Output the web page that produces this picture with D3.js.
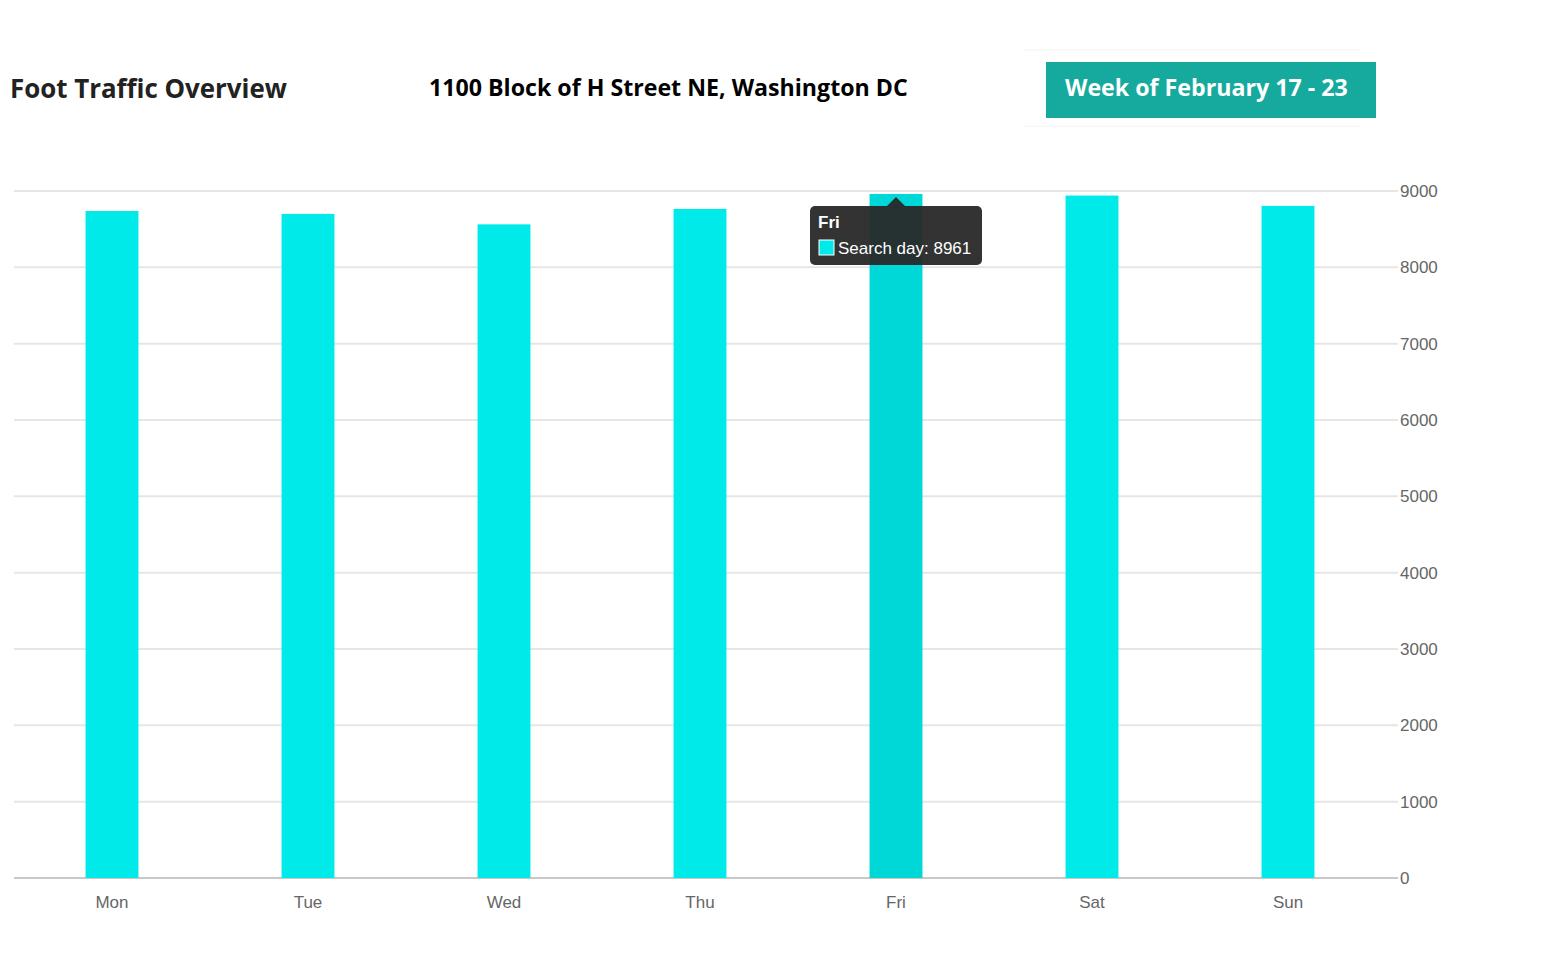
<!DOCTYPE html>
<html><head><meta charset="utf-8">
<script src="https://cdn.jsdelivr.net/npm/d3@7"></script>
<style>body{margin:0;background:#fff;}svg{display:block;}</style>
</head><body>
<svg id="chart" width="1548" height="960"></svg>
<script>
const categories = ["Mon","Tue","Wed","Thu","Fri","Sat","Sun"];
const values = [8738, 8700, 8563, 8765, 8961, 8940, 8805];
const yTicks = [0,1000,2000,3000,4000,5000,6000,7000,8000,9000];
const seriesName = "Search day";
const highlighted = "Fri";

const svg = d3.select("#chart");
const x = d3.scaleBand().domain(categories).range([14, 1386]).paddingInner(0.73).paddingOuter(0.365);
const y = d3.scaleLinear().domain([0, 9000]).range([878, 191]);

function fitText(sel, w){ const l = sel.node().getComputedTextLength(); const fs = parseFloat(sel.attr("font-size")); sel.attr("font-size", fs*w/l); }
const t1 = svg.append("text").attr("x",10).attr("y",98).attr("font-family","Open Sans, sans-serif").attr("font-weight",700).attr("font-size",27).attr("fill","#222").text("Foot Traffic Overview");
fitText(t1, 277);
const t2 = svg.append("text").attr("x",429).attr("y",96).attr("font-family","Open Sans, sans-serif").attr("font-weight",700).attr("font-size",24).attr("fill","#000").text("1100 Block of H Street NE, Washington DC");
fitText(t2, 479);

svg.append("line").attr("x1",1023).attr("x2",1360).attr("y1",50).attr("y2",50).attr("stroke","#f2f2f2").attr("stroke-width",1);
svg.append("line").attr("x1",1023).attr("x2",1360).attr("y1",126).attr("y2",126).attr("stroke","#f2f2f2").attr("stroke-width",1);
svg.append("rect").attr("x",1046).attr("y",62).attr("width",330).attr("height",56).attr("fill","#16a99d");
const t3 = svg.append("text").attr("x",1065).attr("y",96).attr("font-family","Open Sans, sans-serif").attr("font-weight",700).attr("font-size",24).attr("fill","#fff").text("Week of February 17 - 23");
fitText(t3, 283);

svg.append("g").selectAll("line").data(yTicks.filter(d=>d>0)).join("line")
  .attr("x1",14).attr("x2",1398).attr("y1",d=>y(d)).attr("y2",d=>y(d))
  .attr("stroke","#e6e6e6").attr("stroke-width",2);
svg.append("line").attr("x1",14).attr("x2",1398).attr("y1",y(0)).attr("y2",y(0)).attr("stroke","#c8c8c8").attr("stroke-width",2);

svg.append("g").selectAll("text").data(yTicks).join("text")
  .attr("x",1400).attr("y",d=>y(d)).attr("dy","0.36em")
  .attr("font-family","Liberation Sans, Arial, sans-serif").attr("font-size",17).attr("fill","#666")
  .text(d=>d);

svg.append("g").selectAll("rect").data(categories).join("rect")
  .attr("x",d=>x(d)).attr("width",x.bandwidth())
  .attr("y",(d,i)=>y(values[i])).attr("height",(d,i)=>y(0)-y(values[i]))
  .attr("fill",d=>d===highlighted?"#00d8d8":"#00eaea");

svg.append("g").selectAll("text").data(categories).join("text")
  .attr("x",d=>x(d)+x.bandwidth()/2).attr("y",902).attr("dy","0.36em").attr("text-anchor","middle")
  .attr("font-family","Liberation Sans, Arial, sans-serif").attr("font-size",17).attr("fill","#666")
  .text(d=>d);

const hi = categories.indexOf(highlighted);
const cx = x(highlighted)+x.bandwidth()/2;
const tg = svg.append("g");
tg.append("path").attr("d",`M${cx-9},206 L${cx},197 L${cx+9},206 Z`).attr("fill","rgba(40,40,40,0.95)");
tg.append("rect").attr("x",810).attr("y",206).attr("width",172).attr("height",59).attr("rx",5).attr("fill","rgba(40,40,40,0.95)");
tg.append("text").attr("x",818).attr("y",228).attr("font-family","Liberation Sans, Arial, sans-serif").attr("font-weight",700).attr("font-size",17).attr("fill","#fff").text(highlighted);
tg.append("rect").attr("x",819).attr("y",240).attr("width",15).attr("height",15).attr("fill","#00eaea").attr("stroke","#fff").attr("stroke-width",1);
tg.append("text").attr("x",838).attr("y",254).attr("font-family","Liberation Sans, Arial, sans-serif").attr("font-size",17).attr("fill","#fff").text(`${seriesName}: ${values[hi]}`);
</script>
</body></html>
